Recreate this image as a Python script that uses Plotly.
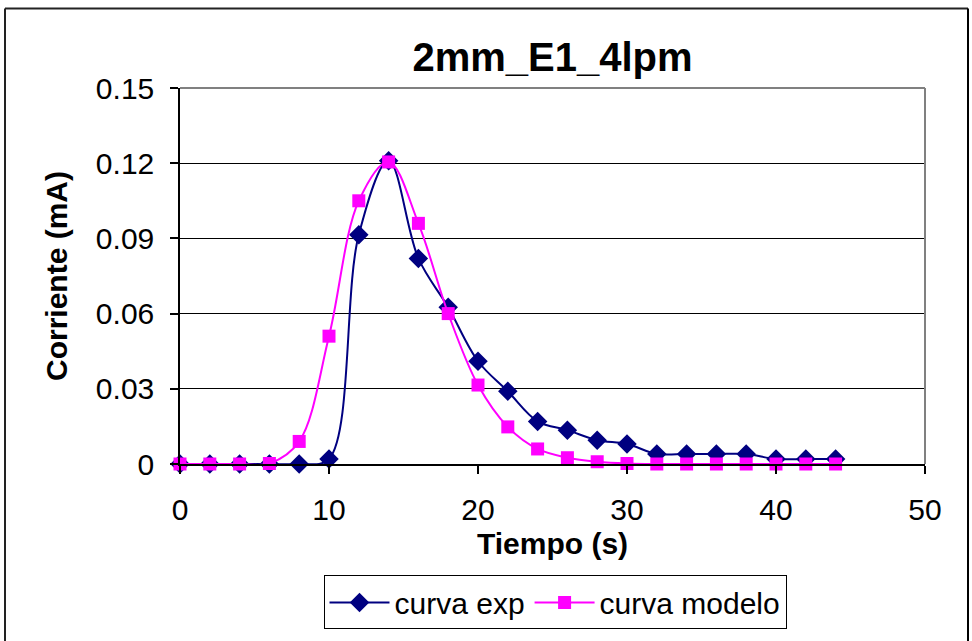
import plotly.graph_objects as go

tiempo = [0, 2, 4, 6, 8, 10, 12, 14, 16, 18, 20, 22, 24, 26, 28, 30, 32, 34, 36, 38, 40, 42, 44]
curva_exp = [0, 0, 0, 0, 0, 0.002, 0.0915, 0.121, 0.082, 0.0625, 0.041, 0.029, 0.017, 0.0135,
             0.0095, 0.008, 0.004, 0.004, 0.004, 0.004, 0.002, 0.002, 0.002]
curva_modelo = [0, 0, 0, 0.0002, 0.009, 0.051, 0.105, 0.1205, 0.096, 0.060, 0.0315, 0.0148, 0.006,
                0.0025, 0.0009, 0.0002, 0, 0, 0, 0, 0, 0, 0]
y_ticks = [0, 0.03, 0.06, 0.09, 0.12, 0.15]
y_ticktext = ["0", "0.03", "0.06", "0.09", "0.12", "0.15"]
x_ticks = [0, 10, 20, 30, 40, 50]

FONT = "Liberation Sans, Arial, sans-serif"

fig = go.Figure()
fig.add_trace(go.Scatter(
    x=tiempo, y=curva_exp, name="curva exp", mode="lines+markers",
    line=dict(color="#000080", width=2, shape="spline", smoothing=1),
    marker=dict(symbol="diamond", size=15, color="#000080"),
    cliponaxis=False))
fig.add_trace(go.Scatter(
    x=tiempo, y=curva_modelo, name="curva modelo", mode="lines+markers",
    line=dict(color="#FF00FF", width=2, shape="spline", smoothing=1),
    marker=dict(symbol="square", size=13, color="#FF00FF"),
    cliponaxis=False))

L, R, T, B = 180, 47, 88, 175
W, H = 972, 641
pw, ph = W - L - R, H - T - B

def px(x):
    return (x - L) / pw

def py(y):
    return (H - B - y) / ph

shapes = [
    dict(type="line", xref="paper", yref="paper", x0=0, x1=1, y0=1, y1=1,
         line=dict(color="#808080", width=2)),
    dict(type="line", xref="paper", yref="paper", x0=1, x1=1, y0=0, y1=1,
         line=dict(color="#808080", width=2)),
    dict(type="line", xref="paper", yref="paper", x0=px(5), x1=px(5), y0=py(8), y1=py(700),
         line=dict(color="#222222", width=2)),
    dict(type="line", xref="paper", yref="paper", x0=px(5), x1=px(968), y0=py(8), y1=py(8),
         line=dict(color="#222222", width=2)),
    dict(type="line", xref="paper", yref="paper", x0=px(968), x1=px(968), y0=py(8), y1=py(700),
         line=dict(color="#000000", width=2)),
]

fig.update_layout(
    width=W, height=H,
    margin=dict(l=L, r=R, t=T, b=B),
    paper_bgcolor="white", plot_bgcolor="white",
    font=dict(family=FONT, size=30, color="black"),
    title=dict(text="<b>2mm_E1_4lpm</b>", x=0.5, xref="paper", xanchor="center",
               y=1 - 57 / H, yanchor="middle", font=dict(size=40, family=FONT)),
    xaxis=dict(range=[0, 50], tickvals=x_ticks, showgrid=False, zeroline=False,
               showline=True, linecolor="black", linewidth=1.5,
               ticks="outside", ticklen=8, tickcolor="black", tickwidth=1.5,
               tickfont=dict(size=30), fixedrange=True, ticklabelstandoff=10,
               title=dict(text="<b>Tiempo (s)</b>", font=dict(size=30), standoff=8)),
    yaxis=dict(range=[0, 0.15], tickvals=y_ticks, ticktext=y_ticktext,
               showgrid=True, gridcolor="black", gridwidth=1, zeroline=False,
               showline=True, linecolor="black", linewidth=1.5,
               ticks="outside", ticklen=8, tickcolor="black", tickwidth=1.5,
               tickfont=dict(size=30), fixedrange=True, ticklabelstandoff=10,
               title=dict(text="<b>Corriente (mA)</b>", font=dict(size=30), standoff=19)),
    legend=dict(orientation="h", x=px(555), xanchor="center", y=py(578), yanchor="top",
                bordercolor="black", borderwidth=1, bgcolor="white",
                font=dict(size=30), itemwidth=60, tracegroupgap=0),
    shapes=shapes,
    showlegend=True,
)

fig.write_html("out.html")
